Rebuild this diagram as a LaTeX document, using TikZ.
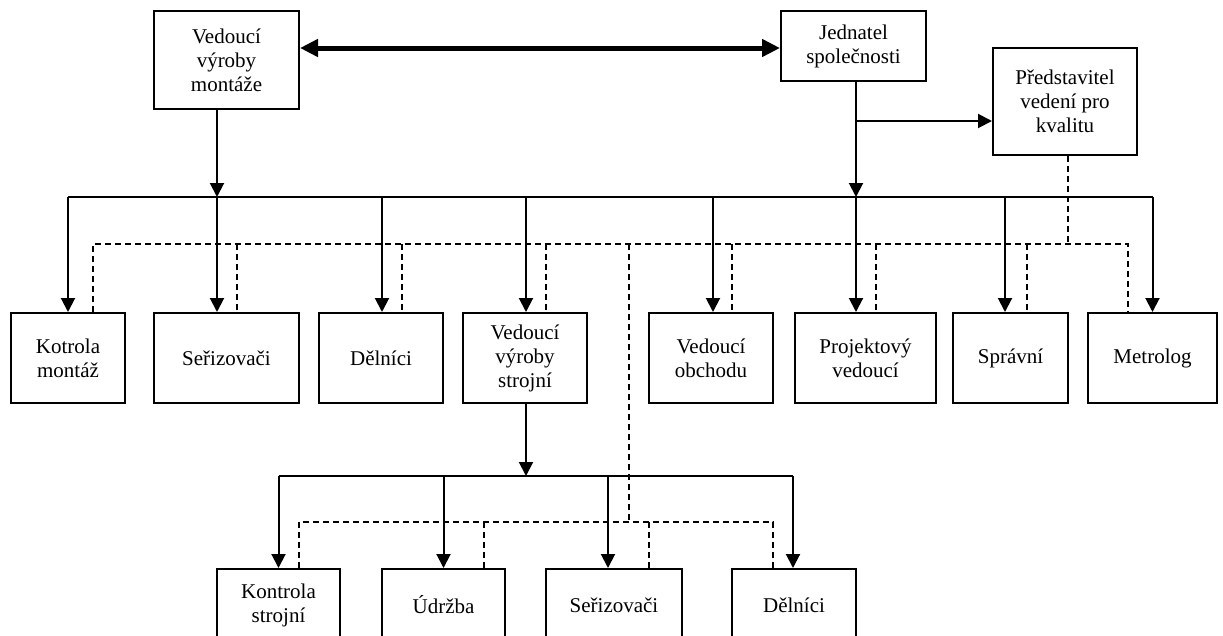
\documentclass[tikz,border=0pt]{standalone}
\usepackage{fontspec}
\setmainfont{Liberation Serif}
\usetikzlibrary{arrows.meta}

\begin{document}
\begin{tikzpicture}[x=0.6pt,y=-0.6pt,
  box/.style={draw,line width=1.2pt,inner sep=0pt,align=center,font=\fontsize{12.6}{14.4}\selectfont},
  link/.style={line width=1.2pt},
  arr/.style={line width=1.2pt,-{Triangle[width=8.4pt,length=8.4pt]}},
  qualdash/.style={line width=0.9pt,dash pattern=on 3.6pt off 2.4pt},
  both/.style={line width=3pt,{Triangle[width=10.2pt,length=10.8pt]}-{Triangle[width=10.2pt,length=10.8pt]}}]
\useasboundingbox (0,0) rectangle (1223,636);
\clip (0,0) rectangle (1223,636);

% top
\node[box,minimum width=87pt,minimum height=58.8pt] (vvm) at (226.5,60) {Vedoucí\\výroby\\montáže};
\node[box,minimum width=87pt,minimum height=42pt] (jed) at (853.5,46) {Jednatel\\společnosti};
\node[box,minimum width=86.4pt,minimum height=64.2pt] (pred) at (1065,101.5) {Představitel\\vedení pro\\kvalitu};

% second row
\node[box,minimum width=68.4pt,minimum height=54pt] (kotm) at (68,358) {Kotrola\\montáž};
\node[box,minimum width=87pt,minimum height=54pt] (ser1) at (226.5,358) {Seřizovači};
\node[box,minimum width=74.4pt,minimum height=54pt] (del1) at (381,358) {Dělníci};
\node[box,minimum width=74.4pt,minimum height=54pt] (vvs) at (525,358) {Vedoucí\\výroby\\strojní};
\node[box,minimum width=74.4pt,minimum height=54pt] (obch) at (711,358) {Vedoucí\\obchodu};
\node[box,minimum width=84.6pt,minimum height=54pt] (proj) at (865.5,358) {Projektový\\vedoucí};
\node[box,minimum width=69pt,minimum height=54pt] (spr) at (1010.5,358) {Správní};
\node[box,minimum width=77.4pt,minimum height=54pt] (metr) at (1152.5,358) {Metrolog};

% third row
\node[box,minimum width=73.8pt,minimum height=43.2pt] (kstr) at (278.5,605) {Kontrola\\strojní};
\node[box,minimum width=73.8pt,minimum height=43.2pt] (udr) at (443.5,605) {Údržba};
\node[box,minimum width=81.6pt,minimum height=43.2pt] (ser2) at (614,605) {Seřizovači};
\node[box,minimum width=74.4pt,minimum height=43.2pt] (del2) at (794,605) {Dělníci};

% levels of the lines
\coordinate (busA) at (0,197);
\coordinate (qbusA) at (0,244);
\coordinate (busB) at (0,476);
\coordinate (qbusB) at (0,522);
\coordinate (qlink) at (629,244);

\coordinate (dbl) at ([yshift=7.2pt]vvm.east);
\draw[both] (dbl) -- (dbl -| jed.west);

\coordinate (vtap) at ([xshift=-5.7pt]vvm.south);
\draw[arr] (vtap) -- (vtap |- busA);
\coordinate (jtap) at ([xshift=1.5pt]jed.south);
\coordinate (ptap) at ([yshift=-11.7pt]pred.west);
\draw[arr] (jtap) -- (jtap |- busA);
\draw[arr] (jtap |- ptap) -- (ptap);

\draw[link] (kotm.north |- busA) -- (metr.north |- busA);
\draw[arr] (kotm.north |- busA) -- (kotm.north);
\draw[arr] ([xshift=-5.7pt]ser1.north |- busA) -- ([xshift=-5.7pt]ser1.north);
\draw[arr] ([xshift=0.6pt]del1.north |- busA) -- ([xshift=0.6pt]del1.north);
\draw[arr] ([xshift=0.6pt]vvs.north |- busA) -- ([xshift=0.6pt]vvs.north);
\draw[arr] ([xshift=1.2pt]obch.north |- busA) -- ([xshift=1.2pt]obch.north);
\draw[arr] ([xshift=-5.7pt]proj.north |- busA) -- ([xshift=-5.7pt]proj.north);
\draw[arr] ([xshift=-3.3pt]spr.north |- busA) -- ([xshift=-3.3pt]spr.north);
\draw[arr] (metr.north |- busA) -- (metr.north);

\draw[qualdash] ([xshift=15pt]kotm.north) -- ([xshift=15pt]kotm.north |- qbusA) -- ([xshift=-14.7pt]metr.north |- qbusA) -- ([xshift=-14.7pt]metr.north);
\draw[qualdash] ([xshift=6.3pt]ser1.north |- qbusA) -- ([xshift=6.3pt]ser1.north);
\draw[qualdash] ([xshift=12.6pt]del1.north |- qbusA) -- ([xshift=12.6pt]del1.north);
\draw[qualdash] ([xshift=12.6pt]vvs.north |- qbusA) -- ([xshift=12.6pt]vvs.north);
\draw[qualdash] ([xshift=12.6pt]obch.north |- qbusA) -- ([xshift=12.6pt]obch.north);
\draw[qualdash] ([xshift=6.3pt]proj.north |- qbusA) -- ([xshift=6.3pt]proj.north);
\draw[qualdash] ([xshift=9.9pt]spr.north |- qbusA) -- ([xshift=9.9pt]spr.north);
\draw[qualdash] ([xshift=1.8pt]pred.south) -- ([xshift=1.8pt]pred.south |- qbusA);
\draw[qualdash] (qlink) -- (qlink |- qbusB);

% strojni part
\draw[arr] ([xshift=0.6pt]vvs.south) -- ([xshift=0.6pt]vvs.south |- busB);
\draw[link] (kstr.north |- busB) -- ([xshift=-0.6pt]del2.north |- busB);
\draw[arr] (kstr.north |- busB) -- (kstr.north);
\draw[arr] (udr.north |- busB) -- (udr.north);
\draw[arr] ([xshift=-3.6pt]ser2.north |- busB) -- ([xshift=-3.6pt]ser2.north);
\draw[arr] ([xshift=-0.6pt]del2.north |- busB) -- ([xshift=-0.6pt]del2.north);

\draw[qualdash] ([xshift=12.3pt]kstr.north) -- ([xshift=12.3pt]kstr.north |- qbusB) -- ([xshift=-12.6pt]del2.north |- qbusB) -- ([xshift=-12.6pt]del2.north);
\draw[qualdash] ([xshift=24.3pt]udr.north |- qbusB) -- ([xshift=24.3pt]udr.north);
\draw[qualdash] ([xshift=21pt]ser2.north |- qbusB) -- ([xshift=21pt]ser2.north);

\end{tikzpicture}
\end{document}
